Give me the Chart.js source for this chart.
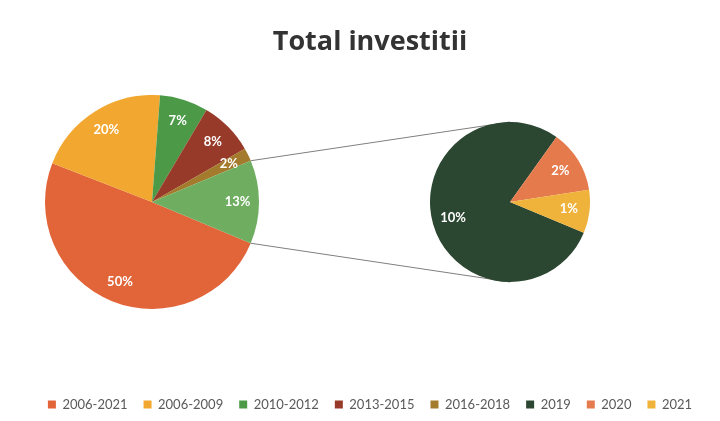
<!DOCTYPE html>
<html>
<head>
<meta charset="utf-8">
<script src="https://cdn.jsdelivr.net/npm/chart.js@4"></script>
<style>
    body { margin: 0; background: #fff; }
    #wrap { position: relative; width: 720px; height: 421px; background: #fff; }
    #wrap canvas { position: absolute; }
    #frameChart { left: 0; top: 0; z-index: 0; }
    #mainPie, #subPie { z-index: 1; }
</style>
</head>
<body>
<div id="wrap">
    <canvas id="frameChart" width="720" height="421"></canvas>
    <canvas id="mainPie"></canvas>
    <canvas id="subPie"></canvas>
</div>
<script>
// date (procente din total)
const categories = ['2006-2021', '2006-2009', '2010-2012', '2013-2015', '2016-2018', '2019', '2020', '2021'];
const shares = [49.6, 20.3, 7.3, 8.2, 2.0, 9.9, 1.6, 1.1];
const inMainPie = 5;          // primele 5 categorii stau in pie-ul mare, restul in cel mic
const otherLabel = 'Altele';

// culori
const sliceColors = ['#e2653a', '#f1a730', '#4c9a48', '#983a29', '#a47a2c', '#2b4731', '#e57a4c', '#efb23a'];
const otherColor = '#6fae61';

// pozitia celor doua pie-uri
const mainPos = { cx: 152, cy: 202, r: 107 };
const subPos = { cx: 510, cy: 202, r: 80 };

const total = shares.reduce((a, b) => a + b, 0);
const mainValues = shares.slice(0, inMainPie);
const subValues = shares.slice(inMainPie);
const otherValue = subValues.reduce((a, b) => a + b, 0);
// felia "Altele" centrata la ora 3, ca in Excel
const rotation = 90 + otherValue / total * 180;

function placeCanvas(id, pos) {
    const c = document.getElementById(id);
    c.width = pos.r * 2;
    c.height = pos.r * 2;
    c.style.left = (pos.cx - pos.r) + 'px';
    c.style.top = (pos.cy - pos.r) + 'px';
    return c;
}

// etichete procentuale in interiorul feliilor
const sliceLabels = {
    id: 'sliceLabels',
    afterDatasetsDraw(chart, args, opts) {
        const ctx = chart.ctx;
        const meta = chart.getDatasetMeta(0);
        const data = chart.data.datasets[0].data;
        ctx.save();
        ctx.fillStyle = '#ffffff';
        ctx.font = 'bold 13px Lato';
        ctx.textAlign = 'center';
        ctx.textBaseline = 'middle';
        meta.data.forEach((arc, i) => {
            const p = arc.getProps(['x', 'y', 'startAngle', 'endAngle', 'outerRadius'], true);
            const mid = (p.startAngle + p.endAngle) / 2;
            const r = p.outerRadius * opts.distance;
            ctx.fillText(Math.round(data[i] / total * 100) + '%', p.x + Math.cos(mid) * r, p.y + Math.sin(mid) * r);
        });
        ctx.restore();
    }
};

const pieOptions = (distance) => ({
    responsive: false,
    animation: false,
    rotation: rotation,
    plugins: {
        legend: { display: false },
        tooltip: { enabled: false },
        sliceLabels: { distance: distance }
    }
});

const mainChart = new Chart(placeCanvas('mainPie', mainPos), {
    type: 'pie',
    data: {
        labels: categories.slice(0, inMainPie).concat(otherLabel),
        datasets: [{
            data: mainValues.concat(otherValue),
            backgroundColor: sliceColors.slice(0, inMainPie).concat(otherColor),
            borderWidth: 0
        }]
    },
    options: pieOptions(0.8),
    plugins: [sliceLabels]
});

const subChart = new Chart(placeCanvas('subPie', subPos), {
    type: 'pie',
    data: {
        labels: categories.slice(inMainPie),
        datasets: [{
            data: subValues,
            backgroundColor: sliceColors.slice(inMainPie),
            borderWidth: 0
        }]
    },
    options: pieOptions(0.74),
    plugins: [sliceLabels]
});

// liniile dintre felia "Altele" si pie-ul mic
const seriesLines = {
    id: 'seriesLines',
    afterDraw(chart) {
        const ctx = chart.ctx;
        const other = mainChart.getDatasetMeta(0).data[inMainPie];
        const sub = subChart.getDatasetMeta(0).data[0];
        const mx = other.x + mainPos.cx - mainPos.r, my = other.y + mainPos.cy - mainPos.r;
        const sx = sub.x + subPos.cx - subPos.r, sy = sub.y + subPos.cy - subPos.r;
        const R = other.outerRadius;
        ctx.save();
        ctx.strokeStyle = '#7f7f7f';
        ctx.lineWidth = 1;
        ctx.beginPath();
        ctx.moveTo(mx + Math.cos(other.startAngle) * R, my + Math.sin(other.startAngle) * R);
        ctx.lineTo(sx, sy - sub.outerRadius);
        ctx.moveTo(mx + Math.cos(other.endAngle) * R, my + Math.sin(other.endAngle) * R);
        ctx.lineTo(sx, sy + sub.outerRadius);
        ctx.stroke();
        ctx.restore();
    }
};

// titlul si legenda (pie invizibil, raza 0, doar pentru legenda)
new Chart(document.getElementById('frameChart'), {
    type: 'pie',
    data: {
        labels: categories,
        datasets: [{
            data: shares,
            backgroundColor: sliceColors,
            borderWidth: 0,
            radius: 0
        }]
    },
    options: {
        responsive: false,
        animation: false,
        layout: { padding: { left: 20 } },
        plugins: {
            title: {
                display: true,
                text: 'Total investitii',
                color: '#333333',
                font: { family: 'Open Sans', size: 27, weight: 'bold' },
                padding: { top: 26, bottom: 0 }
            },
            legend: {
                position: 'bottom',
                labels: {
                    color: '#595959',
                    font: { family: 'Lato', size: 13 },
                    boxWidth: 8,
                    boxHeight: 8,
                    padding: 16
                }
            },
            tooltip: { enabled: false }
        }
    },
    plugins: [seriesLines]
});
</script>
</body>
</html>
